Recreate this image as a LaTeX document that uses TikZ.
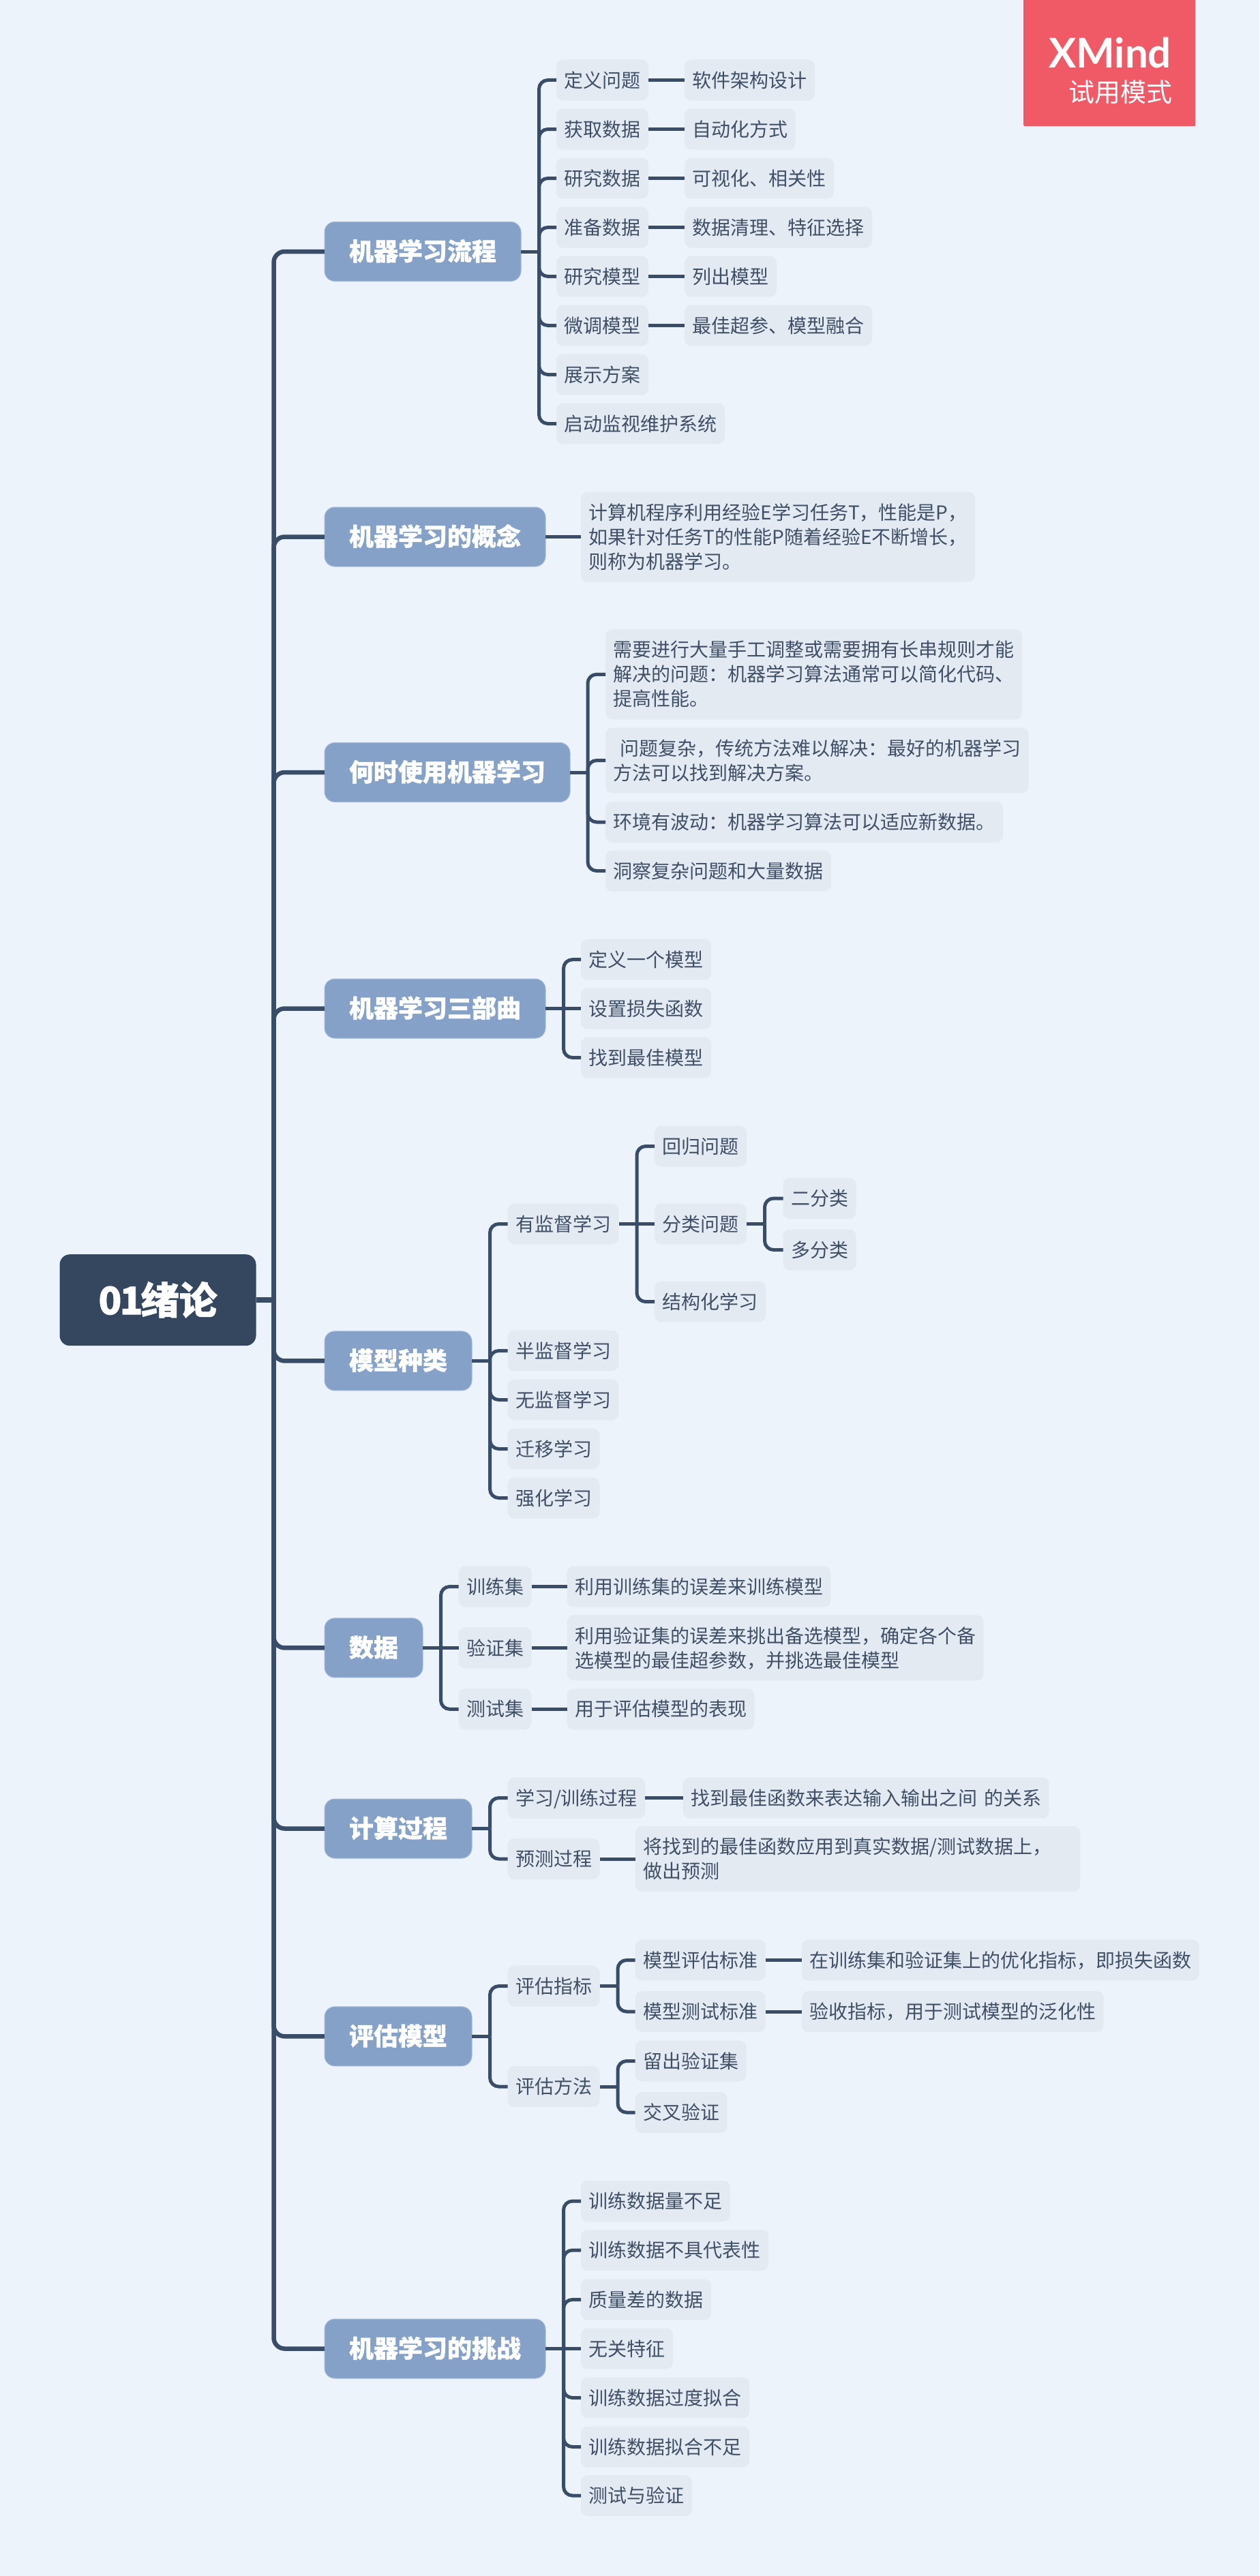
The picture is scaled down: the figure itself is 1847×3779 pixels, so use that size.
\documentclass[tikz,border=0pt]{standalone}
\usepackage{fontspec}
\setmainfont{Noto Sans CJK SC}[BoldFeatures={FakeBold=1}]
\newfontfamily\latinwm{Lato}
\definecolor{bgc}{HTML}{ECF3FA}
\definecolor{subc}{HTML}{E3EAF2}
\definecolor{topicc}{HTML}{85A1C8}
\definecolor{topicb}{HTML}{A3B9D8}
\definecolor{rootc}{HTML}{35475F}
\definecolor{linec}{HTML}{3A4D68}
\definecolor{txtc}{HTML}{3F4F66}
\definecolor{wmc}{HTML}{F05A66}
\newcommand\st{\rule[-7.4pt]{0pt}{36pt}}
\tikzset{
  x=1pt,y=-1pt,
  sub/.style={anchor=west,fill=subc,rounded corners=10pt,inner xsep=11.5pt,inner ysep=12pt,
    align=left,text=txtc,outer sep=0pt,font=\fontsize{28}{36}\selectfont},
  topic/.style={anchor=west,fill=topicc,draw=topicb,line width=1pt,rounded corners=15pt,
    minimum height=87pt,inner xsep=36pt,inner ysep=0pt,text=white,outer sep=0pt,
    text height=31pt,text depth=5pt,font=\fontsize{36}{36}\selectfont\bfseries},
  root/.style={anchor=west,fill=rootc,rounded corners=15pt,minimum width=288pt,minimum height=134pt,
    inner sep=0pt,text=white,outer sep=0pt,text height=49pt,text depth=7pt,
    font=\fontsize{56}{56}\selectfont\bfseries},
  mainlink/.style={draw=linec,line width=6.5pt,rounded corners=16pt},
  sublink/.style={draw=linec,line width=5pt,rounded corners=13pt},
}
\begin{document}
\begin{tikzpicture}
\useasboundingbox (0,0) rectangle (1847,3779);
\fill[bgc] (0,0) rectangle (1847,3779);
% watermark
\node[fill=wmc,rounded corners=2pt,minimum width=252pt,minimum height=189pt,inner sep=0pt,anchor=north west] (wm) at (1501,-4) {};
\node[anchor=east,text=white,inner sep=0pt,font=\fontsize{60}{60}\selectfont\latinwm\bfseries] (wmA) at (1718,77) {XMind};
\node[anchor=east,text=white,inner sep=0pt,font=\fontsize{38}{38}\selectfont] (wmB) at (1720,135) {试用模式};
% root
\node[root] (root) at (87.5,1907.2) {0\kern-3pt 1\kern-3pt 绪论};
% topics
\node[topic] (t1) at (476,369) {机器学习流程};
\node[topic] (t2) at (476,787.5) {机器学习的概念};
\node[topic] (t3) at (476,1133) {何时使用机器学习};
\node[topic] (t4) at (476,1479.5) {机器学习三部曲};
\node[topic] (t5) at (476,1996.4) {模型种类};
\node[topic] (t6) at (476,2417.4) {数据};
\node[topic] (t7) at (476,2682.5) {计算过程};
\node[topic] (t8) at (476,2987.3) {评估模型};
\node[topic] (t9) at (476,3445.5) {机器学习的挑战};
% main branch
\coordinate (jr) at ([xshift=26pt]root.east);
\draw[mainlink,line width=8pt] (root.east) -- (jr);
\foreach \t in {t1,t2,t3,t4,t5,t6,t7,t8,t9}
  \draw[mainlink] (jr) |- (\t.west);
% topic 1
\foreach \n/\y/\s in {a1/117.5/定义问题,a2/189.5/获取数据,a3/261.5/研究数据,a4/333.5/准备数据,a5/405.5/研究模型,a6/477.5/微调模型,a7/549.5/展示方案,a8/621.5/启动监视维护系统}
  \node[sub] (\n) at (816,\y) {\st\s};
\foreach \n/\y/\s in {aa1/117.5/软件架构设计,aa2/189.5/自动化方式,aa3/261.5/可视化、相关性,aa4/333.5/数据清理、特征选择,aa5/405.5/列出模型,aa6/477.5/最佳超参、模型融合}
  \node[sub] (\n) at (1004,\y) {\st\s};
\coordinate (j1) at ([xshift=26.5pt]t1.east);
\draw[sublink] (t1.east) -- (j1);
\foreach \n in {a1,a2,a3,a4,a5,a6,a7,a8} \draw[sublink] (j1) |- (\n.west);
\foreach \n in {1,2,3,4,5,6} \draw[sublink] (a\n.east) -- (aa\n.west);
% topic 2
\node[sub] (b1) at (852,787.5) {\st 计算机程序利用经验E学习任务T，性能是P，\\\st 如果针对任务T的性能P随着经验E不断增长，\\\st 则称为机器学习。};
\draw[sublink] (t2.east) -- (b1.west);
% topic 3
\node[sub] (c1) at (888,989.3) {\st 需要进行大量手工调整或需要拥有长串规则才能\\\st 解决的问题：机器学习算法通常可以简化代码、\\\st 提高性能。};
\node[sub] (c2) at (888,1115.5) {\st\hspace{9.5pt}问题复杂，传统方法难以解决：最好的机器学习\\\st 方法可以找到解决方案。};
\node[sub] (c3) at (888,1206) {\st 环境有波动：机器学习算法可以适应新数据。};
\node[sub] (c4) at (888,1277.5) {\st 洞察复杂问题和大量数据};
\coordinate (j3) at ([xshift=26pt]t3.east);
\draw[sublink] (t3.east) -- (j3);
\foreach \n in {c1,c2,c3,c4} \draw[sublink] (j3) |- (\n.west);
% topic 4
\node[sub] (d1) at (852,1407.7) {\st 定义一个模型};
\node[sub] (d2) at (852,1479.5) {\st 设置损失函数};
\node[sub] (d3) at (852,1551.5) {\st 找到最佳模型};
\coordinate (j4) at ([xshift=26.5pt]t4.east);
\draw[sublink] (t4.east) -- (d2.west);
\foreach \n in {d1,d3} \draw[sublink] (j4) |- (\n.west);
% topic 5
\node[sub] (e1) at (744.5,1795.5) {\st 有监督学习};
\node[sub] (e2) at (744.5,1981.5) {\st 半监督学习};
\node[sub] (e3) at (744.5,2053.5) {\st 无监督学习};
\node[sub] (e4) at (744.5,2125.5) {\st 迁移学习};
\node[sub] (e5) at (744.5,2197.5) {\st 强化学习};
\coordinate (j5) at ([xshift=26.5pt]t5.east);
\draw[sublink] (t5.east) -- (j5);
\foreach \n in {e1,e2,e3,e4,e5} \draw[sublink] (j5) |- (\n.west);
\node[sub] (f1) at (960,1681.5) {\st 回归问题};
\node[sub] (f2) at (960,1795.5) {\st 分类问题};
\node[sub] (f3) at (960,1909.6) {\st 结构化学习};
\coordinate (j5a) at ([xshift=26.5pt]e1.east);
\draw[sublink] (e1.east) -- (f2.west);
\foreach \n in {f1,f3} \draw[sublink] (j5a) |- (\n.west);
\node[sub] (g1) at (1148.5,1758) {\st 二分类};
\node[sub] (g2) at (1148.5,1833.5) {\st 多分类};
\coordinate (j5b) at ([xshift=26.5pt]f2.east);
\draw[sublink] (f2.east) -- (j5b);
\foreach \n in {g1,g2} \draw[sublink] (j5b) |- (\n.west);
% topic 6
\node[sub] (h1) at (672.6,2327.5) {\st 训练集};
\node[sub] (h2) at (672.6,2417.4) {\st 验证集};
\node[sub] (h3) at (672.6,2507.3) {\st 测试集};
\coordinate (j6) at ([xshift=26.5pt]t6.east);
\draw[sublink] (t6.east) -- (h2.west);
\foreach \n in {h1,h3} \draw[sublink] (j6) |- (\n.west);
\node[sub] (hh1) at (831.6,2327.5) {\st 利用训练集的误差来训练模型};
\node[sub] (hh2) at (831.6,2417.4) {\st 利用验证集的误差来挑出备选模型，确定各个备\\\st 选模型的最佳超参数，并挑选最佳模型};
\node[sub] (hh3) at (831.6,2507.3) {\st 用于评估模型的表现};
\foreach \n in {1,2,3} \draw[sublink] (h\n.east) -- (hh\n.west);
% topic 7
\node[sub] (i1) at (744.5,2637.5) {\st 学习/训练过程};
\node[sub] (i2) at (744.5,2727) {\st 预测过程};
\coordinate (j7) at ([xshift=26.5pt]t7.east);
\draw[sublink] (t7.east) -- (j7);
\foreach \n in {i1,i2} \draw[sublink] (j7) |- (\n.west);
\node[sub] (ii1) at (1001.5,2637.5) {\st\spaceskip=10pt 找到最佳函数来表达输入输出之间 的关系};
\node[sub,text width=629.5pt] (ii2) at (931.7,2727) {\st 将找到的最佳函数应用到真实数据/测试数据上，\\\st 做出预测};
\foreach \n in {1,2} \draw[sublink] (i\n.east) -- (ii\n.west);
% topic 8
\node[sub] (k1) at (744.5,2913.6) {\st 评估指标};
\node[sub] (k2) at (744.5,3061) {\st 评估方法};
\coordinate (j8) at ([xshift=26.5pt]t8.east);
\draw[sublink] (t8.east) -- (j8);
\foreach \n in {k1,k2} \draw[sublink] (j8) |- (\n.west);
\node[sub] (l1) at (931.7,2875.5) {\st 模型评估标准};
\node[sub] (l2) at (931.7,2951) {\st 模型测试标准};
\coordinate (j8a) at ([xshift=26.5pt]k1.east);
\draw[sublink] (k1.east) -- (j8a);
\foreach \n in {l1,l2} \draw[sublink] (j8a) |- (\n.west);
\node[sub] (ll1) at (1175.6,2875.5) {\st 在训练集和验证集上的优化指标，即损失函数};
\node[sub] (ll2) at (1175.6,2951) {\st 验收指标，用于测试模型的泛化性};
\foreach \n in {1,2} \draw[sublink] (l\n.east) -- (ll\n.west);
\node[sub] (m1) at (931.7,3023.5) {\st 留出验证集};
\node[sub] (m2) at (931.7,3099) {\st 交叉验证};
\coordinate (j8b) at ([xshift=26.5pt]k2.east);
\draw[sublink] (k2.east) -- (j8b);
\foreach \n in {m1,m2} \draw[sublink] (j8b) |- (\n.west);
% topic 9
\foreach \n/\y/\s in {n1/3229/训练数据量不足,n2/3301/训练数据不具代表性,n3/3373.5/质量差的数据,n4/3445.5/无关特征,n5/3517.5/训练数据过度拟合,n6/3589.5/训练数据拟合不足,n7/3661/测试与验证}
  \node[sub] (\n) at (852,\y) {\st\s};
\coordinate (j9) at ([xshift=26.5pt]t9.east);
\draw[sublink] (t9.east) -- (n4.west);
\foreach \n in {n1,n2,n3,n5,n6,n7} \draw[sublink] (j9) |- (\n.west);
\end{tikzpicture}
\end{document}
